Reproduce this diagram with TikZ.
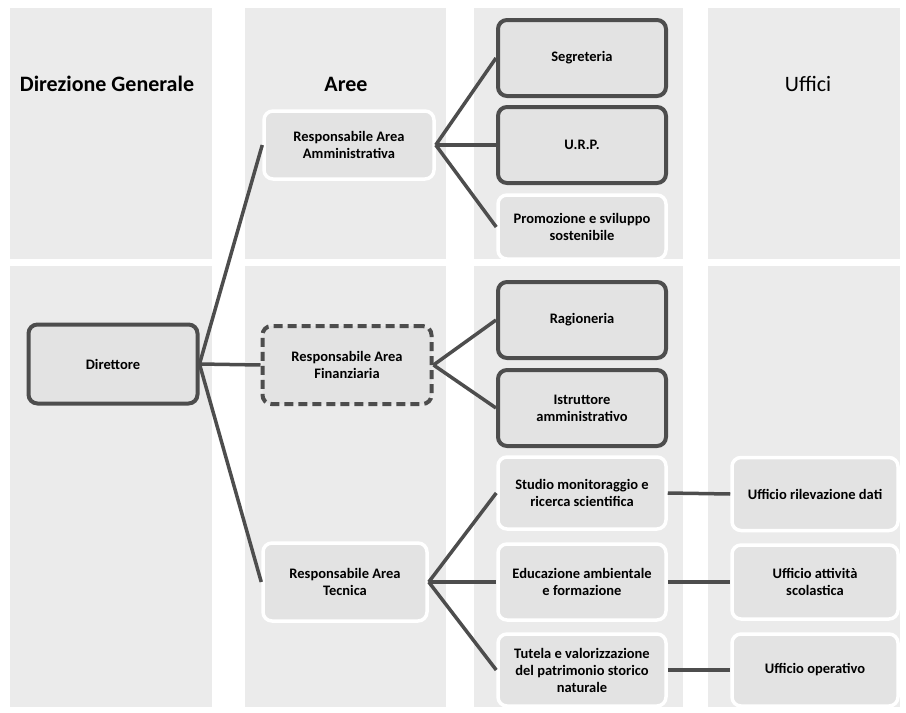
\documentclass[tikz,border=0pt]{standalone}
\usepackage{fontspec}
\setmainfont{Carlito}
\usetikzlibrary{positioning}

\definecolor{panelgray}{HTML}{EBEBEB}
\definecolor{boxgray}{HTML}{E3E3E3}
\definecolor{linegray}{HTML}{4D4D4D}

\tikzset{
  panel/.style={fill=panelgray,draw=none},
  header/.style={font=\bfseries\fontsize{22}{26}\selectfont},
  darkbox/.style={draw=linegray,line width=4pt,rounded corners=9pt,fill=boxgray,
    align=center,minimum width=168pt,minimum height=76pt,inner sep=2pt,
    font=\bfseries\fontsize{14.5}{17}\selectfont},
  whitebox/.style={darkbox,draw=white,line width=3.5pt},
  dashbox/.style={darkbox,dash pattern=on 9pt off 5pt},
  link/.style={draw=linegray,line width=3.5pt}
}

\begin{document}
\begin{tikzpicture}[x=1pt,y=-1pt]
\useasboundingbox (0,0) rectangle (906,713);

\foreach \xa/\xb in {10/212,245/446,474/683,708/900}{
  \fill[panel] (\xa,8) rectangle (\xb,259);
  \fill[panel] (\xa,266) rectangle (\xb,707);
}

\node[header] (dg) at (107,84) {Direzione Generale};
\node[header] (aree) at (346,84) {Aree};
\node[header,font=\fontsize{22}{26}\selectfont] (uffici) at (808,84) {Uffici};

\node[darkbox,minimum width=169pt,minimum height=79pt] (dir) at (113,364) {Direttore};

\node[whitebox,minimum width=170pt,minimum height=68pt] (amm) at (349,145) {Responsabile Area\\Amministrativa};
\node[dashbox,minimum width=169pt,minimum height=78pt] (fin) at (347,365) {Responsabile Area\\Finanziaria};
\node[whitebox,minimum width=164pt,minimum height=78pt] (tec) at (345,582) {Responsabile Area\\Tecnica};

\node[darkbox] (segr) at (582,58) {Segreteria};
\node[darkbox] (urp) at (582,145) {U.R.P.};
\node[whitebox,minimum height=64pt] (prom) at (582,227) {Promozione e sviluppo\\sostenibile};
\node[darkbox] (rag) at (582,320) {Ragioneria};
\node[darkbox] (istr) at (582,408) {Istruttore\\amministrativo};
\node[whitebox,minimum height=72pt] (stud) at (582,493) {Studio monitoraggio e\\ricerca scientifica};
\node[whitebox] (edu) at (582,582) {Educazione ambientale\\e formazione};
\node[whitebox,minimum height=72pt] (tut) at (582,670) {Tutela e valorizzazione\\del patrimonio storico\\naturale};

\node[whitebox,minimum width=166pt,minimum height=73pt] (ril) at (815,494) {Ufficio rilevazione dati};
\node[whitebox,minimum width=166pt,minimum height=74pt] (scol) at (815,582) {Ufficio attività\\scolastica};
\node[whitebox,minimum width=166pt,minimum height=72pt] (oper) at (815,670) {Ufficio operativo};

\draw[link] (dir.east) -- (amm.west);
\draw[link] (dir.east) -- (fin.west);
\draw[link] (dir.east) -- (tec.west);

\draw[link] (amm.east) -- (segr.west);
\draw[link] (amm.east) -- (urp.west);
\draw[link] (amm.east) -- (prom.west);

\draw[link] (fin.east) -- (rag.west);
\draw[link] (fin.east) -- (istr.west);

\draw[link] (tec.east) -- (stud.west);
\draw[link] (tec.east) -- (edu.west);
\draw[link] (tec.east) -- (tut.west);

\draw[link] (stud.east) -- (ril.west);
\draw[link] (edu.east) -- (scol.west);
\draw[link] (tut.east) -- (oper.west);

\end{tikzpicture}
\end{document}
